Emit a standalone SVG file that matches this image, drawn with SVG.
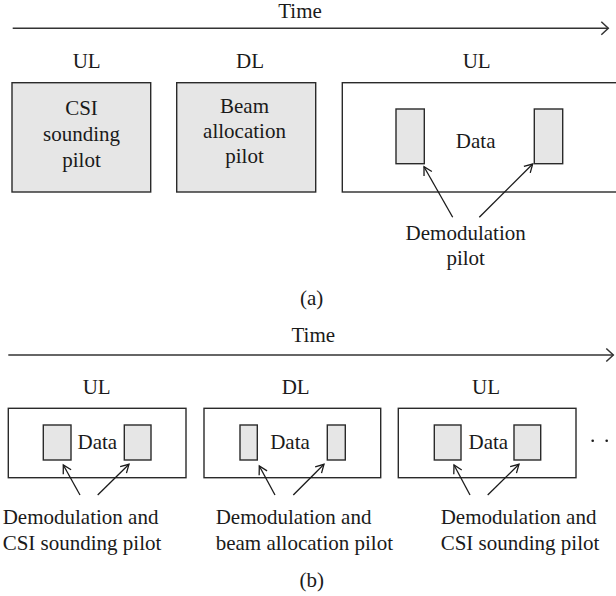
<svg xmlns="http://www.w3.org/2000/svg" width="616" height="596" viewBox="0 0 616 596">
<style>
text{font-family:"Liberation Serif","Times New Roman",serif;font-size:21px;fill:#1a1a1a}
.c{text-anchor:middle}
.box{fill:#fff;stroke:#2a2a2a;stroke-width:1.4}
.gbox{fill:#e6e6e6;stroke:#2a2a2a;stroke-width:1.4}
.ln{stroke:#1a1a1a;stroke-width:1.3;fill:none}
.tl{stroke:#333;stroke-width:1.5;fill:none}
</style>
<defs>
<marker id="ah" markerUnits="userSpaceOnUse" markerWidth="14" markerHeight="14" refX="10" refY="7" orient="auto" viewBox="0 0 14 14">
<path d="M2,2.5 L10,7 L2,11.5" fill="none" stroke="#1a1a1a" stroke-width="1.3"/>
</marker>
<marker id="th" markerUnits="userSpaceOnUse" markerWidth="16" markerHeight="16" refX="10" refY="8" orient="auto" viewBox="0 0 16 16">
<path d="M3,1.5 L10,8 L3,14.5" fill="none" stroke="#333" stroke-width="1.5"/>
</marker>
</defs>

<!-- Part (a) -->
<g id="time-a">
<text class="c" x="300" y="18.3">Time</text>
</g>
<g id="labels-a">
<text class="c" x="86.7" y="68">UL</text>
<text class="c" x="250" y="68">DL</text>
<text class="c" x="476.7" y="68">UL</text>
</g>
<g id="a-csi">
<rect class="gbox" x="12" y="82.7" width="138.7" height="109.3"/>
<text class="c" x="81.5" y="115">CSI</text>
<text class="c" x="81.5" y="140.7">sounding</text>
<text class="c" x="81.5" y="166.7">pilot</text>
</g>
<g id="a-beam">
<rect class="gbox" x="176.7" y="82.7" width="139" height="109.3"/>
<text class="c" x="244.5" y="113.3">Beam</text>
<text class="c" x="244.5" y="138.3">allocation</text>
<text class="c" x="244.5" y="163.3">pilot</text>
</g>
<g id="a-data">
<rect class="box" x="342.3" y="82.7" width="280" height="109.3"/>
<rect class="gbox" x="396" y="109" width="28.3" height="54.7"/>
<rect class="gbox" x="534.3" y="109" width="28.4" height="54.7"/>
<text class="c" x="475.7" y="147.7">Data</text>
</g>
<g id="a-demod">
<text class="c" x="465.7" y="240">Demodulation</text>
<text class="c" x="465.7" y="265">pilot</text>
</g>
<g id="cap-a">
<text class="c" x="311.7" y="305">(a)</text>
</g>

<!-- Part (b) -->
<g id="time-b">
<text class="c" x="313.3" y="341.7">Time</text>
</g>
<g id="labels-b">
<text class="c" x="96.7" y="394">UL</text>
<text class="c" x="295.7" y="394">DL</text>
<text class="c" x="486" y="394">UL</text>
</g>
<g id="b-ul1">
<rect class="box" x="8.3" y="408.3" width="177.7" height="69.4"/>
<rect class="gbox" x="43.3" y="425" width="27.7" height="35"/>
<rect class="gbox" x="124.3" y="425" width="26.7" height="35"/>
<text class="c" x="97.3" y="449">Data</text>
</g>
<g id="b-dl">
<rect class="box" x="204" y="408.3" width="176.7" height="69.4"/>
<rect class="gbox" x="240" y="425" width="17.3" height="35"/>
<rect class="gbox" x="327.3" y="425" width="18" height="35"/>
<text class="c" x="290" y="449">Data</text>
</g>
<g id="b-ul2">
<rect class="box" x="398.3" y="408.3" width="177.7" height="69.4"/>
<rect class="gbox" x="434.3" y="425" width="26.7" height="35"/>
<rect class="gbox" x="514" y="425" width="26.7" height="35"/>
<text class="c" x="488.3" y="449">Data</text>
</g>
<g id="b-dots">
<circle cx="592.7" cy="440.7" r="1.3" fill="#1a1a1a"/>
<circle cx="606.7" cy="440.7" r="1.3" fill="#1a1a1a"/>
</g>
<g id="b-lab1">
<text x="2.7" y="524.3">Demodulation and</text>
<text x="2.7" y="550">CSI sounding pilot</text>
</g>
<g id="b-lab2">
<text x="215.7" y="524.3">Demodulation and</text>
<text x="215.7" y="550">beam allocation pilot</text>
</g>
<g id="b-lab3">
<text x="440.7" y="524.3">Demodulation and</text>
<text x="440.7" y="550">CSI sounding pilot</text>
</g>
<g id="cap-b">
<text class="c" x="311.7" y="586.7">(b)</text>
</g>

<!-- Connectors -->
<g id="connectors">
<line class="tl" x1="12.7" y1="28.3" x2="608.3" y2="28.3" marker-end="url(#th)"/>
<line class="tl" x1="8.3" y1="355" x2="613.3" y2="355" marker-end="url(#th)"/>
<line class="ln" x1="452.7" y1="217.3" x2="424" y2="166.7" marker-end="url(#ah)"/>
<line class="ln" x1="479.3" y1="217.3" x2="532.7" y2="164" marker-end="url(#ah)"/>
<line class="ln" x1="80" y1="495" x2="63.3" y2="465" marker-end="url(#ah)"/>
<line class="ln" x1="97.7" y1="495" x2="129" y2="464.3" marker-end="url(#ah)"/>
<line class="ln" x1="275" y1="495" x2="259.3" y2="466" marker-end="url(#ah)"/>
<line class="ln" x1="293.3" y1="495" x2="324" y2="464.3" marker-end="url(#ah)"/>
<line class="ln" x1="470" y1="495" x2="454" y2="465" marker-end="url(#ah)"/>
<line class="ln" x1="487.7" y1="495" x2="519" y2="464.3" marker-end="url(#ah)"/>
</g>
</svg>
